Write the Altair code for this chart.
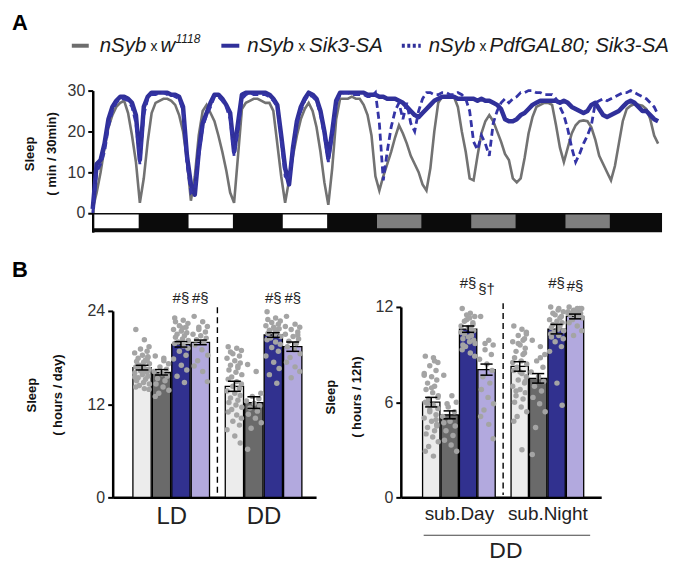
import altair as alt
import pandas as pd

FONT = "Liberation Sans, Arial, Helvetica, sans-serif"

# ---------------- Panel A data (sleep, min / 30 min, read hourly) ----------------
HOURS = list(range(145))
W1118 = [1, 5, 10, 16, 21, 24, 26, 27, 27.5, 24.5, 19, 12.5, 2.5, 8.5, 17.5, 24.5, 27, 27.5, 28, 28, 27.5, 26.5, 24, 20,
         13, 3, 9, 19, 25, 26.5, 24.5, 22.5, 19, 15, 10.5, 5, 2.5, 14, 25.5, 27, 27.5, 28, 28, 27.5, 27, 27, 25, 17,
         9, 2.5, 8, 14, 19, 23, 25.5, 27, 25, 21, 15, 7.5, 2, 11, 23, 28, 28, 28, 28.5, 28, 28, 26.5, 24, 19,
         9, 5.5, 9, 12, 15, 18.5, 21.5, 19.5, 17, 14, 12, 10, 7, 5.5, 11, 20, 27, 28.5, 28.5, 28.5, 28.5, 26, 20, 15,
         8.5, 8, 14, 19.5, 22.5, 24, 22.5, 20, 17.5, 14.5, 13, 8.5, 7.5, 8.5, 13.5, 19.5, 23.5, 26, 26.5, 27, 27, 26.5, 21.5, 16,
         12.5, 16, 19.5, 21.5, 22.5, 22.7, 22.5, 21, 18, 14, 12, 10, 8, 11.5, 17, 22.5, 25.5, 26.3, 26.7, 26.5, 26.3, 25.5, 23, 19, 17]
SIK3 = [1, 12, 13, 17, 23, 26, 27.5, 28.5, 28.5, 28, 27, 24, 13, 26, 28.5, 29.5, 29.5, 29.5, 29.5, 29.5, 29, 29, 28.5, 26,
        14, 7, 4.5, 15, 22, 24.5, 27, 29, 29, 28, 26.5, 24.5, 15, 22, 29, 29.5, 29.5, 29.5, 29.5, 29.5, 29.5, 29, 28, 26.5,
        19, 11, 7, 16, 22.5, 26, 28, 29.5, 29, 28, 25, 20, 13.5, 20, 27.5, 29.5, 29.5, 29.5, 29.5, 29.5, 29.5, 29.5, 29, 29,
        29, 28.5, 28.5, 28, 28, 28, 27.5, 27, 26, 25, 24, 23.5, 24.5, 25.5, 26.5, 27.5, 28, 28.5, 28.5, 28.5, 28.5, 28, 28, 28,
        28, 28, 27.5, 28, 27.5, 27.5, 27, 26.5, 25.5, 23, 22.5, 22.5, 23, 24, 24.5, 25.5, 26.5, 27, 27.5, 27.5, 27.5, 27.5, 27.5, 27,
        27.5, 27, 26, 25.5, 25, 24.5, 25, 26.5, 27, 25.5, 24, 23.5, 24, 24.5, 25, 26, 27, 27.5, 27, 26, 25, 25, 24, 23, 22.5]
PDF_SIK3 = [0, 10, 12, 15, 21, 25, 27, 28, 28, 27.5, 26, 22, 12, 24, 28, 29, 29, 29.5, 29.5, 29, 29, 28.5, 28, 25,
            12, 5, 6, 14, 21, 24, 26, 28.5, 28.5, 27.5, 26, 23, 14, 20, 28, 29, 29.5, 29, 29, 29, 29, 28.5, 27.5, 26,
            18, 9, 8, 16, 22, 25, 27.5, 29, 28.5, 27.5, 24, 19, 12.5, 19, 27, 29, 29.5, 29.5, 29, 29, 29, 29, 28.5, 28.5,
            29.5, 22, 8, 15, 21, 25, 27, 23, 27, 22, 20, 25, 28, 29.5, 29.5, 29, 29, 29.5, 29.5, 29, 29, 29.5, 29, 28,
            25, 17.5, 15.5, 19, 17, 14, 22, 25, 27, 28, 27, 28, 28.5, 29.5, 29.5, 30, 30, 29.5, 29.5, 29, 29, 29, 28, 26,
            24, 20.5, 16, 12.5, 14.5, 17, 19, 21.5, 27, 27.5, 28, 27.5, 28, 28.5, 29, 29.5, 29.5, 30, 29.5, 29, 28.5, 28, 27, 26, 24]
DAYS = [0, 1, 2, 3, 4, 5]
DAY_COND = ["LD", "LD", "LD", "DD", "DD", "DD"]
YTICKS_A = [0, 10, 20, 30]
LEGEND_PARTS = [("nSyb", "x", "w", "1118"), ("nSyb", "x", "Sik3-SA"), ("nSyb", "x", "PdfGAL80; Sik3-SA")]

# ---------------- Panel B data ----------------
GENOS = ["ctrl", "nSyb x w1118", "nSyb x Sik3-SA", "nSyb x PdfGAL80; Sik3-SA"]
LEFT_GROUPS = ["LD", "DD"]
LEFT_MEAN = [16.7, 16.1, 19.7, 19.95, 14.3, 12.2, 20.9, 19.4]
LEFT_SEM = [0.3, 0.35, 0.35, 0.3, 0.65, 0.75, 0.3, 0.6]
LEFT_SIG = ["", "", "#§", "#§", "", "", "#§", "#§"]
LEFT_DOTS = [
    [21.6, 20.3, 19.4, 19.1, 18.8, 18.6, 18.3, 18.1, 17.9, 17.7, 17.5, 17.4, 17.2, 17.0, 16.8, 16.6, 16.5, 16.3,
     16.1, 16.0, 15.8, 15.6, 15.4, 15.2, 15.0, 14.8, 14.6, 14.4, 14.2, 14.0, 13.9, 16.9, 17.6, 15.5, 16.2, 18.0],
    [18.2, 17.6, 17.2, 16.8, 16.5, 16.2, 15.9, 15.6, 15.3, 15.0, 14.6, 14.2, 13.8, 13.4, 13.0, 17.9],
    [23.1, 22.8, 22.4, 22.1, 21.9, 21.6, 21.4, 21.2, 21.0, 20.8, 20.6, 20.4, 20.2, 20.0, 19.8, 19.5, 19.2, 18.8,
     18.3, 17.8, 17.0, 16.4, 15.6, 14.8, 22.6, 21.8],
    [23.3, 22.6, 22.0, 21.6, 21.3, 21.0, 20.8, 20.5, 20.3, 20.0, 19.6, 19.0, 18.3, 17.6, 16.9, 16.2, 14.9, 21.9],
    [19.4, 19.2, 18.9, 18.5, 18.2, 17.9, 17.6, 17.3, 17.0, 16.7, 16.4, 16.1, 15.8, 15.5, 15.2, 14.9, 14.6, 14.3,
     14.0, 13.7, 13.4, 13.1, 12.8, 12.5, 12.2, 11.9, 11.6, 11.3, 11.0, 10.6, 10.2, 9.8, 9.3, 8.7, 7.9, 7.0, 18.7, 16.9],
    [17.1, 16.2, 13.4, 13.0, 12.7, 12.4, 12.1, 11.8, 11.5, 11.1, 10.7, 10.2, 9.6, 8.9, 6.2],
    [23.9, 23.1, 22.7, 22.5, 22.3, 22.1, 21.9, 21.7, 21.5, 21.3, 21.1, 20.9, 20.7, 20.5, 20.3, 20.0, 19.7, 19.3,
     18.8, 18.2, 17.4, 16.6, 15.8, 14.7, 22.9, 21.6],
    [23.3, 22.3, 21.9, 21.6, 21.3, 21.0, 20.7, 20.4, 20.1, 19.8, 19.4, 19.0, 18.5, 18.0, 17.4, 16.8, 16.2, 15.4, 20.9, 22.0],
]
RIGHT_GROUPS = ["sub.Day", "sub.Night"]
RIGHT_COND = "DD"
RIGHT_MEAN = [6.0, 5.2, 10.6, 8.05, 8.25, 7.5, 10.6, 11.4]
RIGHT_SEM = [0.3, 0.25, 0.2, 0.35, 0.3, 0.3, 0.3, 0.15]
RIGHT_SIG = ["", "", "#§", "§†", "", "", "#§", "#§"]
RIGHT_DOTS = [
    [8.9, 8.8, 8.5, 8.3, 8.0, 7.8, 7.6, 7.4, 7.2, 7.0, 6.8, 6.6, 6.4, 6.2, 6.0, 5.8, 5.6, 5.4, 5.2, 5.0, 4.8, 4.6,
     4.4, 4.2, 4.0, 3.8, 3.5, 3.2, 2.9, 2.6, 6.3, 5.5, 4.9, 7.7, 6.9, 4.5, 5.9, 8.6],
    [7.7, 6.4, 6.0, 5.7, 5.4, 5.1, 4.8, 4.5, 4.2, 3.9, 3.6, 3.3, 2.9, 5.9, 4.7],
    [11.9, 11.6, 11.4, 11.2, 11.0, 10.8, 10.7, 10.5, 10.3, 10.2, 10.0, 9.8, 9.7, 9.5, 9.3, 9.1, 8.9, 11.5, 10.9,
     10.4, 10.1, 9.9, 11.1, 10.6, 9.6, 11.3],
    [11.4, 9.9, 9.6, 9.3, 9.0, 8.7, 8.4, 8.0, 7.6, 7.2, 6.8, 6.3, 5.9, 5.5, 5.1, 4.6, 3.7, 9.7],
    [10.8, 10.6, 10.4, 10.2, 10.0, 9.8, 9.6, 9.4, 9.2, 9.0, 8.8, 8.6, 8.4, 8.2, 8.0, 7.8, 7.6, 7.4, 7.2, 7.0, 6.8,
     6.6, 6.4, 6.2, 6.0, 5.7, 5.4, 5.1, 4.8, 3.0, 10.3, 9.7, 9.1, 8.5, 7.9, 7.3, 6.7, 9.9],
    [9.9, 9.5, 9.0, 8.6, 8.2, 7.9, 7.6, 7.3, 7.0, 6.7, 6.3, 5.9, 5.4, 4.4, 2.7, 8.8],
    [12.0, 11.9, 11.7, 11.5, 11.4, 11.2, 11.1, 11.0, 10.9, 10.8, 10.7, 10.6, 10.5, 10.4, 10.3, 10.2, 10.0, 9.8,
     9.5, 9.2, 7.2, 5.8, 11.6, 11.3, 10.1, 11.8],
    [12.0, 11.9, 11.9, 11.8, 11.8, 11.7, 11.7, 11.6, 11.6, 11.5, 11.5, 11.4, 11.3, 11.2, 11.0, 10.8, 10.5, 10.2, 11.9, 11.6],
]

ONE = pd.DataFrame({"k": [0]})


def text_at(s, x, y, size, weight="normal", style="normal", align="left", color="#1a1a1a"):
    return alt.Chart(ONE).mark_text(
        text=s, align=align, baseline="middle", fontSize=size, fontWeight=weight,
        fontStyle=style, font=FONT, color=color
    ).encode(x=alt.value(x), y=alt.value(y))


# ---------------- Panel A ----------------
xs_a = alt.Scale(domain=[0, 145], range=[-20, 551], nice=False, zero=False)
ys_a = alt.Scale(domain=[-4.7, 30], nice=False, zero=False)
yaxis_a = alt.Axis(values=YTICKS_A, offset=20, grid=False, domainColor="black", domainWidth=2.5,
                   tickColor="black", tickWidth=2, tickSize=5, labelFontSize=16, labelColor="#333",
                   labelPadding=3, title=["Sleep", "( min / 30min)"], titleFontSize=13,
                   titleFontWeight="bold", titleColor="#111", titleX=-63, titleY=63,
                   titleAngle=270, titleAlign="center", titleBaseline="middle", titleLineHeight=22)

band = alt.Chart(pd.DataFrame({"s": [0], "e": [145]})).mark_rect(color="#0b0b0b").encode(
    x=alt.X("s:Q", scale=xs_a, axis=None), x2="e:Q",
    y=alt.Y(datum=0, scale=ys_a, axis=yaxis_a), y2=alt.datum(-4.7))

ld_df = pd.DataFrame({"day": DAYS, "cond": DAY_COND})
boxes = alt.Chart(ld_df).transform_calculate(
    b0="datum.day * 24 + 0.4", b1="datum.day * 24 + 11.7"
).mark_rect().encode(
    x=alt.X("b0:Q", scale=xs_a, axis=None), x2="b1:Q",
    y=alt.datum(-0.35), y2=alt.datum(-3.75),
    color=alt.Color("cond:N", scale=alt.Scale(domain=["LD", "DD"], range=["#ffffff", "#7e7e7e"]), legend=None))


def series_layer(vals, name, **mk):
    df = pd.DataFrame({"h": HOURS, "v": vals, "s": name})
    return alt.Chart(df).mark_line(**mk).encode(
        x=alt.X("h:Q", scale=xs_a, axis=None),
        y=alt.Y("v:Q", scale=ys_a, axis=yaxis_a))


grey = series_layer(W1118, "w1118", color="#727272", strokeWidth=2.6)
solid = series_layer(SIK3, "sik3", color="#30309a", strokeWidth=4.5, strokeJoin="round")
dashed = series_layer(PDF_SIK3, "pdf", color="#3434a6", strokeWidth=2.8, strokeDash=[7, 4])


def leg_rule(x0, x1, color, dash=None):
    kw = dict(color=color, strokeWidth=4)
    if dash:
        kw["strokeDash"] = dash
    return alt.Chart(ONE).mark_rule(**kw).encode(x=alt.value(x0), x2=alt.value(x1), y=alt.value(-45))


LY = -45
LS = 20.5
XS = 14
legend_layers = [
    leg_rule(-41, -24, "#6d6d6d"),
    text_at(LEGEND_PARTS[0][0], -13, LY, LS, style="italic"),
    text_at(LEGEND_PARTS[0][1], 38, LY + 1, XS),
    text_at(LEGEND_PARTS[0][2], 48, LY, LS, style="italic"),
    text_at(LEGEND_PARTS[0][3], 63, LY - 7, 12, style="italic"),
    leg_rule(109, 127, "#30309a"),
    text_at(LEGEND_PARTS[1][0], 135, LY, LS, style="italic"),
    text_at(LEGEND_PARTS[1][1], 186, LY + 1, XS),
    text_at(LEGEND_PARTS[1][2], 197, LY, LS, style="italic"),
    leg_rule(290, 309, "#30309a", dash=[3, 2.5]),
    text_at(LEGEND_PARTS[2][0], 317, LY, LS, style="italic"),
    text_at(LEGEND_PARTS[2][1], 368, LY + 1, XS),
    text_at(LEGEND_PARTS[2][2], 378, LY, LS, style="italic"),
    text_at("A", -101, -68, 22, weight="bold", color="#000"),
]

top = alt.layer(band, boxes, grey, solid, dashed, *legend_layers).properties(width=551, height=142)

# ---------------- Panel B ----------------
BAR_COLORS = ["#ececec", "#6a6a6a", "#31318f", "#b2a9de"]
JIT = [-0.32, 0.12, 0.36, -0.08, 0.26, -0.38, 0.02, 0.3, -0.2, 0.18, -0.28, 0.08, 0.38, -0.14]


def bar_panel(groups, means, sems, sigs, sig_y, dots, ymax, yticks, ytitle, shift, xdom, width,
              yrange, title_x, title_y, title_lh, label_size, extra):
    bars, pts = [], []
    for i, (m, s) in enumerate(zip(means, sems)):
        g, j = divmod(i, 4)
        pos = j + g * shift
        bars.append(dict(pos=pos, x0=pos - 0.47, x1=pos + 0.47, c0=pos - 0.33, c1=pos + 0.33,
                         mean=m, lo=m - s, hi=m + s, geno=GENOS[j], sig=sigs[i], sy=sig_y[i]))
        for k, v in enumerate(dots[i]):
            pts.append(dict(xj=pos + JIT[k % len(JIT)], v=v))
    bdf = pd.DataFrame(bars)
    pdf = pd.DataFrame(pts)
    xs = alt.Scale(domain=xdom, nice=False, zero=False)
    xaxis = alt.Axis(values=[1.5, 1.5 + shift],
                     labelExpr=f"datum.value < {shift} ? '{groups[0]}' : '{groups[1]}'",
                     ticks=False, grid=False, domainColor="black", domainWidth=2.5,
                     labelFontSize=label_size, labelColor="#222", labelPadding=7, title=None)
    ys = alt.Scale(domain=[0, ymax], range=yrange, nice=False)
    yaxis = alt.Axis(values=yticks, grid=False, domainColor="black", domainWidth=2.5,
                     tickColor="black", tickWidth=2, tickSize=5, labelFontSize=16, labelColor="#333",
                     labelPadding=3, title=ytitle, titleFontSize=13, titleFontWeight="bold",
                     titleColor="#111", titleX=title_x, titleY=title_y, titleAngle=270,
                     titleAlign="center", titleBaseline="middle", titleLineHeight=title_lh)
    X = lambda f: alt.X(f, scale=xs, axis=xaxis)
    Y = lambda f: alt.Y(f, scale=ys, axis=yaxis)
    bar = alt.Chart(bdf).mark_rect(stroke="black", strokeWidth=1.3).encode(
        x=X("x0:Q"), x2="x1:Q", y=Y("mean:Q"), y2=alt.datum(0),
        fill=alt.Fill("geno:N", scale=alt.Scale(domain=GENOS, range=BAR_COLORS), legend=None))
    dot = alt.Chart(pdf).mark_circle(size=30, color="#a4a4a4", opacity=1).encode(x=X("xj:Q"), y=Y("v:Q"))
    err = alt.Chart(bdf).mark_rule(color="black", strokeWidth=1.5).encode(x=X("pos:Q"), y=Y("lo:Q"), y2="hi:Q")
    cap_lo = alt.Chart(bdf).mark_rule(color="black", strokeWidth=1.5).encode(x=X("c0:Q"), x2="c1:Q", y=Y("lo:Q"))
    cap_hi = alt.Chart(bdf).mark_rule(color="black", strokeWidth=1.5).encode(x=X("c0:Q"), x2="c1:Q", y=Y("hi:Q"))
    mid = (3 + shift) / 2
    sep = alt.Chart(ONE).mark_rule(color="black", strokeWidth=1.4, strokeDash=[6, 4]).encode(
        x=alt.X(datum=mid, scale=xs, axis=xaxis), y=alt.Y(datum=ymax * 1.02, scale=ys, axis=yaxis),
        y2=alt.datum(ymax * 0.012))
    sig = alt.Chart(bdf).transform_filter("datum.sig != ''").mark_text(
        fontSize=15, font=FONT, color="#222", baseline="middle").encode(
        x=X("pos:Q"), y=Y("sy:Q"), text="sig:N")
    layers = [bar, dot, err, cap_lo, cap_hi, sep, sig]
    for e in extra:
        layers.append(e(xs, xaxis))
    return alt.layer(*layers).properties(width=width, height=191)


left = bar_panel(LEFT_GROUPS, LEFT_MEAN, LEFT_SEM, LEFT_SIG, [25.7] * 8, LEFT_DOTS, 24, [0, 12, 24],
                 ["Sleep", "( hours / day)"], 4.75, [-1.51, 8.95], 204, [191, 4], -81, 88, 26, 24,
                 [lambda xs, xa: text_at("B", -101, -37, 22, weight="bold", color="#000")])

right_extra = [
    lambda xs, xa: alt.Chart(ONE).mark_rule(color="#444", strokeWidth=1.2).encode(
        x=alt.X(datum=-0.41, scale=xs, axis=xa), x2=alt.datum(8.62), y=alt.value(229)),
    lambda xs, xa: alt.Chart(ONE).mark_text(text=RIGHT_COND, fontSize=23, font=FONT, color="#222",
                                             baseline="middle").encode(
        x=alt.X(datum=4.05, scale=xs, axis=xa), y=alt.value(245)),
]
right = bar_panel(RIGHT_GROUPS, RIGHT_MEAN, RIGHT_SEM, RIGHT_SIG, [13.5, 13.5, 13.5, 13.1, 13.4, 13.4, 13.5, 13.3],
                  RIGHT_DOTS, 12, [0, 6, 12], ["Sleep", "( hours / 12h)"], 4.8, [-1.65, 9.22], 201,
                  [191, 0], -71, 90, 27, 19, right_extra)

bottom = alt.hconcat(left, right, spacing=8)

chart = alt.vconcat(top, bottom, spacing=27).properties(
    padding={"left": 4, "top": 3, "right": 2, "bottom": 2}
).configure_view(strokeWidth=0).configure_axis(labelFont=FONT, titleFont=FONT)

chart.save("out.html", embed_options={"renderer": "svg", "actions": False})
